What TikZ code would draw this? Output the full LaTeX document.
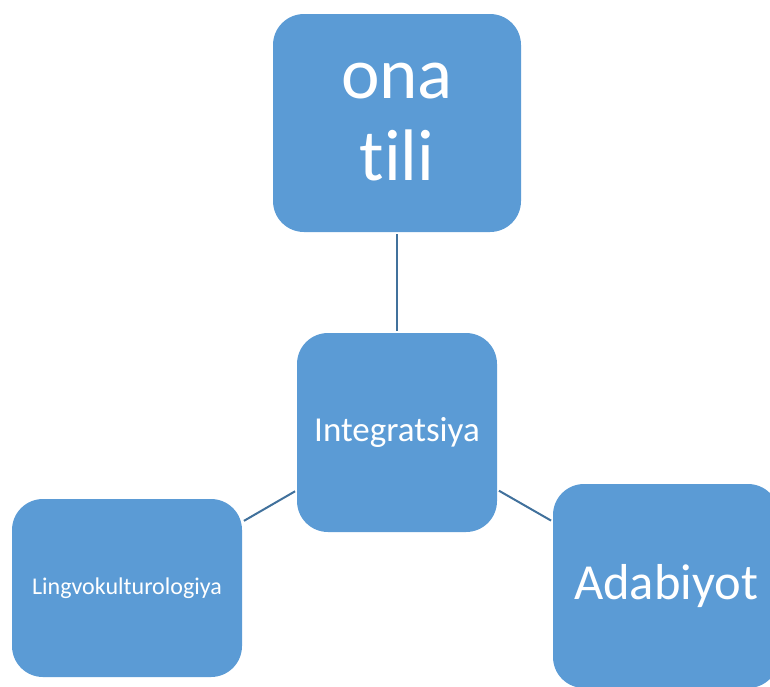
\documentclass[tikz,border=0pt]{standalone}
\usepackage{fontspec}
\setmainfont[Ligatures={NoCommon}]{Carlito}
\definecolor{boxblue}{HTML}{5B9BD5}
\definecolor{linkblue}{HTML}{41719C}
\begin{document}
\begin{tikzpicture}[x=1pt,y=-1pt,
  box/.style={fill=boxblue,rounded corners=31pt,text=white,align=center,inner sep=0pt,anchor=center},
  link/.style={draw=linkblue,line width=2pt,shorten >=2pt,shorten <=2pt}]
\useasboundingbox (0,0) rectangle (770,686);
\node[box,minimum width=248pt,minimum height=218pt,font=\fontsize{73}{82}\selectfont] (top) at (397,123) {\raisebox{-10pt}{\begin{tabular}{@{}c@{}}ona\\tili\end{tabular}}};
\node[box,minimum width=200pt,minimum height=199pt,font=\fontsize{35}{42}\selectfont] (mid) at (397,432.5) {Integratsiya};
\node[box,minimum width=230pt,minimum height=178pt,font=\fontsize{24}{29}\selectfont] (left) at (127,588) {Lingvokulturologiya};
\node[box,minimum width=226pt,minimum height=204pt,font=\fontsize{50.5}{60}\selectfont] (right) at (666,586) {Adabiyot};
\draw[link] (mid) -- (top);
\draw[link] (mid) -- (left);
\draw[link] (mid) -- (right);
\end{tikzpicture}
\end{document}
